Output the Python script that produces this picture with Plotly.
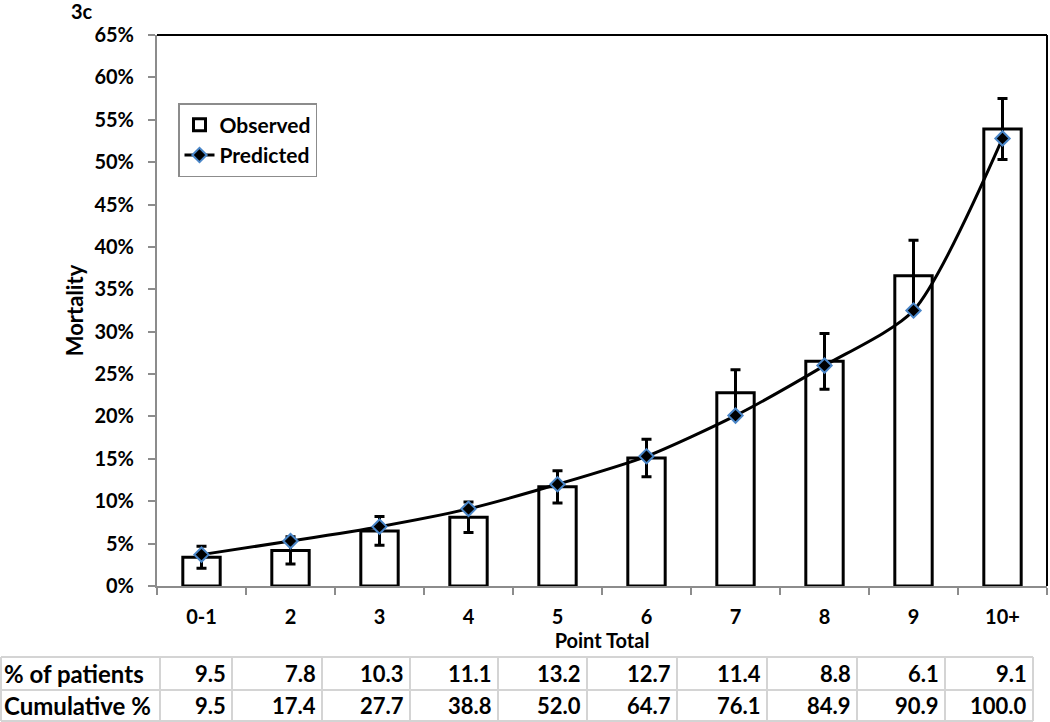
import plotly.graph_objects as go

categories = ["0-1", "2", "3", "4", "5", "6", "7", "8", "9", "10+"]
observed = [0.034, 0.042, 0.065, 0.081, 0.117, 0.151, 0.228, 0.265, 0.366, 0.539]
observed_err = [0.013, 0.016, 0.017, 0.018, 0.019, 0.022, 0.027, 0.033, 0.042, 0.036]
predicted = [0.037, 0.053, 0.070, 0.091, 0.120, 0.153, 0.201, 0.260, 0.325, 0.528]
pct_patients = ["9.5", "7.8", "10.3", "11.1", "13.2", "12.7", "11.4", "8.8", "6.1", "9.1"]
cumulative = ["9.5", "17.4", "27.7", "38.8", "52.0", "64.7", "76.1", "84.9", "90.9", "100.0"]
row_labels = ["% of patients", "Cumulative %"]

FONT = "Lato"
W, H = 1050, 722
L, R, T, B = 157, 3, 35, 136
PW = W - L - R
PH = H - T - B


def px_x(x):
    return (x - L) / PW


def px_y(y):
    return (H - B - y) / PH


fig = go.Figure()
fig.add_trace(go.Bar(
    x=categories, y=observed, name="Observed",
    marker=dict(color="white", line=dict(color="black", width=3)),
    width=0.42,
    error_y=dict(type="data", array=observed_err, color="black", thickness=3, width=5),
))
fig.add_trace(go.Scatter(
    x=categories, y=predicted, name="Predicted", mode="lines+markers",
    line=dict(color="black", width=3, shape="spline", smoothing=0.7),
    marker=dict(symbol="diamond", size=11, color="black", line=dict(color="#4a86c8", width=2)),
))

shapes = []
# plot-area border top and right
shapes.append(dict(type="line", xref="paper", yref="paper", x0=0, x1=1, y0=1, y1=1,
                   line=dict(color="black", width=2)))
shapes.append(dict(type="line", xref="paper", yref="paper", x0=1, x1=1, y0=0, y1=1,
                   line=dict(color="black", width=2)))

# table grid
col_edges = [1, 160, 232, 322, 410, 498, 587, 677, 767, 857, 945, 1033]
row_edges = [657, 690, 721]
grid = "#d4d4d4"
for ry in row_edges:
    shapes.append(dict(type="line", xref="paper", yref="paper",
                       x0=px_x(col_edges[0]), x1=px_x(col_edges[-1]),
                       y0=px_y(ry), y1=px_y(ry), line=dict(color=grid, width=2)))
for cx in col_edges:
    shapes.append(dict(type="line", xref="paper", yref="paper",
                       x0=px_x(cx), x1=px_x(cx),
                       y0=px_y(row_edges[0]), y1=px_y(row_edges[-1]), line=dict(color=grid, width=2)))

annotations = []
rows = [pct_patients, cumulative]
TFS = 22
for r, vals in enumerate(rows):
    yc = (row_edges[r] + row_edges[r + 1]) / 2
    annotations.append(dict(text=row_labels[r], xref="paper", yref="paper",
                            x=px_x(col_edges[0] + 1), y=px_y(yc), xanchor="left", yanchor="middle",
                            showarrow=False, font=dict(family=FONT, size=24, color="black", weight="bold")))
    for i, v in enumerate(vals):
        annotations.append(dict(text=v, xref="paper", yref="paper",
                                x=px_x(col_edges[i + 2] - 4), y=px_y(yc), xanchor="right", yanchor="middle",
                                showarrow=False, font=dict(family=FONT, size=TFS, color="black", weight="bold")))

annotations.append(dict(text="3c", xref="paper", yref="paper", x=px_x(82), y=px_y(11),
                        xanchor="center", yanchor="middle", showarrow=False,
                        font=dict(family=FONT, size=20, color="black", weight="bold")))

fig.update_layout(
    width=W, height=H,
    margin=dict(l=L, r=R, t=T, b=B),
    paper_bgcolor="white", plot_bgcolor="white",
    font=dict(family=FONT, color="black", size=20, weight="bold"),
    showlegend=True,
    legend=dict(x=px_x(178), y=px_y(103), xanchor="left", yanchor="top",
                bordercolor="#8c8c8c", borderwidth=1.5, bgcolor="white",
                font=dict(family=FONT, size=21, color="black", weight="bold"),
                tracegroupgap=0, itemwidth=30),
    xaxis=dict(
        type="category", range=[-0.5, 9.5],
        showline=True, linecolor="#8c8c8c", linewidth=2,
        ticks="outside", tickson="boundaries", ticklen=7, tickcolor="#8c8c8c", tickwidth=1.5,
        ticklabelstandoff=12,
        tickfont=dict(family=FONT, size=20, color="black", weight="bold"),
        title=dict(text="Point Total", standoff=0,
                   font=dict(family=FONT, size=20, color="black", weight="bold")),
        showgrid=False, zeroline=False,
    ),
    yaxis=dict(
        range=[0, 0.65], dtick=0.05, tickformat=".0%",
        showline=True, linecolor="#8c8c8c", linewidth=2,
        ticks="outside", ticklen=7, tickcolor="#8c8c8c", tickwidth=1.5,
        ticklabelstandoff=10,
        tickfont=dict(family=FONT, size=20, color="black", weight="bold"),
        title=dict(text="Mortality", standoff=5,
                   font=dict(family=FONT, size=22, color="black", weight="bold")),
        showgrid=False, zeroline=False,
    ),
    shapes=shapes,
    annotations=annotations,
)

fig.write_html("out.html", config={"displayModeBar": False},
               post_script="document.body.style.margin='0';document.body.style.overflow='hidden';")
